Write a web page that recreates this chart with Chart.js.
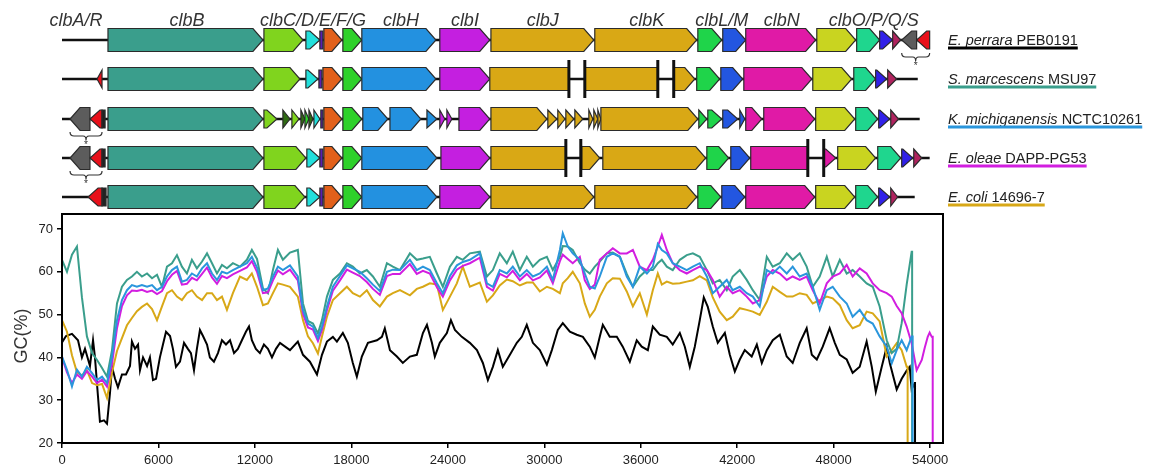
<!DOCTYPE html>
<html>
<head>
<meta charset="utf-8">
<title>clb island GC content</title>
<script src="https://cdn.jsdelivr.net/npm/chart.js@4.4.0/dist/chart.umd.min.js"></script>
<style>
  html, body { margin: 0; padding: 0; background: #fff; }
  #wrap { width: 1152px; height: 469px; position: relative; }
</style>
</head>
<body>
<div id="wrap"><canvas id="gcChart"></canvas></div>
<script>
'use strict';

// ====================== DATA ======================//
const species = ['E. perrara', 'S. marcescens', 'K. michiganensis', 'E. oleae', 'E. coli'];
const strains = ['PEB0191', 'MSU97', 'NCTC10261', 'DAPP-PG53', '14696-7'];

const xTicks = [0, 6000, 12000, 18000, 24000, 30000, 36000, 42000, 48000, 54000];
const yTicks = [20, 30, 40, 50, 60, 70];

// gene label row (centre of label, bp)
const geneLabels = ['clbA/R', 'clbB', 'clbC/D/E/F/G', 'clbH', 'clbI', 'clbJ', 'clbK', 'clbL/M', 'clbN', 'clbO/P/Q/S'];
const geneLabelPos = [870, 7770, 15610, 21080, 25060, 29910, 36380, 41040, 44770, 50490];

// genes: [start, end, gene, strand]  strand 1 = forward, -1 = reverse, 0 = truncated
const perraraGenes = [
  [2860, 12500, 'clbB', 1], [12560, 14990, 'clbC', 1], [15170, 16040, 'clbD', 1], [16040, 16230, 'clbE', 0],
  [16290, 17410, 'clbF', 1], [17470, 18650, 'clbG', 1], [18650, 23260, 'clbH', 1], [23500, 26610, 'clbI', 1],
  [26680, 33080, 'clbJ', 1], [33140, 39480, 'clbK', 1], [39550, 41040, 'clbL', 1], [41100, 42530, 'clbM', 1],
  [42530, 46880, 'clbN', 1], [46950, 49370, 'clbO', 1], [49430, 50860, 'clbP', 1], [50860, 51670, 'clbQ', 1],
  [51670, 52170, 'clbS', 1], [52230, 53160, 'hyp', -1], [53160, 53970, 'clbA', -1]
];
const smarGenes = [
  [2180, 2490, 'clbA', -1],
  [2860, 12500, 'clbB', 1], [12560, 14800, 'clbC', 1], [15170, 15920, 'clbD', 1], [15980, 16170, 'clbE', 0],
  [16230, 17410, 'clbF', 1], [17470, 18650, 'clbG', 1], [18650, 23260, 'clbH', 1], [23500, 26610, 'clbI', 1],
  [26610, 31530, 'clbJ', 0], [32520, 37060, 'clbK', 0], [38050, 39360, 'clbK', 1],
  [39480, 40910, 'clbL', 1], [40980, 42340, 'clbM', 1], [42410, 46640, 'clbN', 1], [46700, 49120, 'clbO', 1],
  [49250, 50610, 'clbP', 1], [50610, 51300, 'clbQ', 1], [51360, 51920, 'clbS', 1]
];
const kmichGenes = [
  [500, 1740, 'hyp', -1], [1740, 2490, 'clbA', -1], [2490, 2680, 'clbR', 0],
  [2860, 12500, 'clbB', 1], [12560, 13370, 'clbC', 1], [13740, 14180, 'orf', 1], [14300, 14740, 'clbC', 1],
  [14860, 15110, 'orf', 1], [15110, 15360, 'clbG', 1], [15360, 15610, 'orf', 1], [15670, 16040, 'clbD', 1],
  [16100, 16230, 'clbE', 0], [16290, 17410, 'clbF', 1], [17470, 18650, 'clbG', 1],
  [18710, 20270, 'clbH', 1], [20400, 22320, 'clbH', 1], [22700, 23320, 'clbH', 1],
  [23500, 23810, 'clbI', 1], [23940, 24250, 'clbI', 1], [24690, 26610, 'clbI', 1],
  [26680, 30160, 'clbJ', 1], [30220, 30780, 'clbJ', 1], [30840, 31280, 'clbJ', 1], [31340, 31840, 'clbJ', 1],
  [31900, 32400, 'clbJ', 1], [32770, 33020, 'clbK', 1], [33080, 33330, 'clbK', 1], [33330, 33520, 'clbK', 1],
  [33520, 39550, 'clbK', 1], [39610, 40110, 'clbL', 1], [40170, 41040, 'clbL', 1],
  [41100, 42030, 'clbM', 1], [42160, 42470, 'clbM', 1], [42530, 43530, 'clbN', 1], [43650, 46820, 'clbN', 1],
  [46880, 49310, 'clbO', 1], [49370, 50740, 'clbP', 1], [50800, 51490, 'clbQ', 1], [51550, 52040, 'clbS', 1]
];
const oleaeGenes = [
  [500, 1740, 'hyp', -1], [1740, 2490, 'clbA', -1], [2490, 2680, 'clbR', 0],
  [2860, 12500, 'clbB', 1], [12560, 15170, 'clbC', 1], [15230, 16040, 'clbD', 1], [16040, 16230, 'clbE', 0],
  [16290, 17410, 'clbF', 1], [17470, 18650, 'clbG', 1], [18650, 23320, 'clbH', 1], [23570, 26610, 'clbI', 1],
  [26680, 31340, 'clbJ', 0], [32330, 33450, 'clbJ', 1], [33640, 40040, 'clbK', 1],
  [40110, 41470, 'clbL', 1], [41600, 42780, 'clbM', 1], [42840, 46390, 'clbN', 0], [47380, 48130, 'clbN', 1],
  [48250, 50610, 'clbO', 1], [50740, 52170, 'clbP', 1], [52230, 52920, 'clbQ', 1], [52980, 53480, 'clbS', 1]
];
const coliGenes = [
  [1620, 2490, 'clbA', -1], [2490, 2740, 'clbR', 0],
  [2860, 12500, 'clbB', 1], [12560, 15110, 'clbC', 1], [15230, 16040, 'clbD', 1], [16040, 16230, 'clbE', 0],
  [16290, 17410, 'clbF', 1], [17470, 18650, 'clbG', 1], [18650, 23320, 'clbH', 1], [23500, 26610, 'clbI', 1],
  [26680, 33080, 'clbJ', 1], [33140, 39480, 'clbK', 1], [39550, 40980, 'clbL', 1], [41040, 42470, 'clbM', 1],
  [42530, 46820, 'clbN', 1], [46880, 49310, 'clbO', 1], [49370, 50740, 'clbP', 1], [50800, 51490, 'clbQ', 1],
  [51550, 51980, 'clbS', 1]
];

const trackEnds = [53970, 53230, 53350, 53970, 53040];
const smarBreaks = [31530, 32520, 37060, 38050];
const oleaeBreaks = [31340, 32270, 46390, 47380];
const perraraBrace = [52230, 53970];
const leftBrace = [500, 2490];

// GC(%) sliding window, shared positions (bp) for four genomes
const positions = [
  0, 310, 620, 930, 1240, 1550, 1870, 2180, 2490, 2800,
  3110, 3420, 3730, 4040, 4350, 4660, 4970, 5290, 5600, 5910,
  6220, 6530, 6840, 7150, 7460, 7770, 8080, 8390, 8710, 9020,
  9330, 9640, 9950, 10260, 10630, 11070, 11500, 11810, 12130, 12500,
  12810, 13120, 13430, 13740, 14180, 14670, 14990, 15300, 15610, 15920,
  16170, 16480, 16850, 17290, 17720, 18090, 18530, 18960, 19340, 19770,
  20210, 20580, 21020, 21640, 22070, 22450, 22880, 23320, 23690, 24130,
  24560, 24930, 25370, 25990, 26430, 26800, 27230, 27670, 28040, 28480,
  28910, 29290, 29720, 30160, 30530, 30970, 31150, 31460, 31770, 32210,
  32520, 32830, 33140, 33450, 33890, 34260, 34700, 35130, 35510, 35940,
  36380, 36750, 37060, 37310, 37620, 37990, 38430, 38860, 39240, 39670,
  40110, 40480, 40910, 41350, 41720, 42160, 42590, 42970, 43400, 43840,
  44210, 44650, 45080, 45450, 45890, 46320, 46700, 47130, 47570, 47940,
  48380, 48810, 49180, 49620, 50050, 50430, 50860, 51300, 51610, 51920,
  52230, 52540, 52850, 53160, 53480, 53660, 53850, 53970, 54100
];
const gcSmar = [
  62.8, 60.0, 64.0, 65.9, 54.0, 44.9, 41.0, 39.4, 37.5, 35.5,
  41.7, 52.6, 56.5, 58.1, 58.9, 60.0, 58.9, 59.6, 58.5, 59.3,
  56.5, 61.2, 62.0, 63.9, 61.2, 59.6, 62.8, 60.8, 62.4, 64.3,
  62.0, 59.6, 61.6, 60.8, 62.0, 61.2, 62.8, 65.1, 63.0, 56.1,
  55.0, 60.4, 65.1, 62.8, 64.5, 65.1, 52.6, 48.5, 47.9, 45.6,
  48.7, 54.2, 58.1, 59.6, 62.0, 61.2, 59.6, 60.4, 58.9, 56.5,
  62.0, 61.2, 60.4, 64.3, 62.8, 63.1, 63.5, 59.6, 56.5, 61.2,
  63.5, 62.8, 64.3, 64.7, 58.9, 60.4, 64.3, 62.0, 64.7, 60.4,
  63.5, 61.2, 62.8, 63.5, 60.4, 63.5, 66.0, 65.9, 65.1, 62.0,
  60.5, 59.6, 61.2, 62.4, 64.3, 64.5, 63.5, 59.5, 56.5, 58.9,
  60.4, 60.4, 62.0, 62.8, 61.2, 60.4, 62.8, 63.9, 64.3, 63.5,
  60.4, 57.3, 58.1, 55.7, 58.9, 60.4, 58.1, 55.7, 53.4, 63.5,
  61.2, 62.0, 64.3, 62.8, 64.3, 61.2, 56.5, 58.9, 63.5, 58.9,
  62.8, 59.6, 60.4, 58.9, 57.3, 56.5, 51.9, 44.0, 41.0, 42.0,
  48.0, 57.0, 64.7, null, null, null, null, null, null
];
const gcKmich = [
  40.2, 37.1, 33.2, 37.1, 35.5, 37.8, 36.3, 34.7, 35.5, 34.0,
  40.2, 48.7, 53.4, 55.7, 56.9, 56.5, 56.9, 56.5, 56.9, 55.7,
  56.5, 58.9, 60.4, 61.2, 57.7, 58.1, 59.6, 58.9, 60.8, 62.0,
  59.6, 58.1, 60.0, 59.6, 60.4, 61.2, 62.0, 63.5, 61.0, 55.7,
  56.1, 58.9, 61.2, 60.4, 61.5, 58.9, 51.1, 47.9, 47.2, 44.5,
  47.2, 51.9, 56.5, 59.0, 61.5, 60.8, 60.0, 58.5, 57.0, 55.5,
  60.0, 60.5, 60.4, 62.8, 60.4, 61.2, 60.4, 57.3, 55.0, 59.0,
  61.5, 62.3, 62.8, 64.3, 57.3, 56.5, 60.4, 59.6, 61.2, 58.9,
  60.4, 58.9, 59.6, 61.2, 58.1, 65.1, 69.0, 65.9, 64.3, 62.8,
  59.6, 56.5, 56.1, 58.9, 63.5, 64.3, 63.5, 58.9, 56.5, 61.2,
  59.6, 61.2, 66.5, 65.1, 64.3, 62.0, 61.2, 60.4, 61.2, 62.0,
  58.9, 55.0, 56.5, 58.1, 55.7, 56.5, 55.0, 54.2, 51.9, 60.4,
  59.6, 61.2, 59.6, 61.2, 58.9, 59.6, 56.5, 51.1, 55.7, 56.5,
  54.2, 52.6, 49.5, 51.1, 48.7, 47.9, 44.9, 42.5, 38.6, 41.7,
  44.0, 41.7, 44.9, null, null, null, null, null, null
];
const gcOleae = [
  40.0, 36.5, 34.0, 36.0, 35.0, 36.8, 35.5, 34.0, 34.8, 33.2,
  38.5, 46.8, 52.0, 54.5, 55.6, 55.5, 55.8, 55.3, 55.6, 54.8,
  55.5, 57.8, 59.3, 60.2, 57.0, 57.2, 58.6, 58.0, 59.5, 61.0,
  58.7, 57.2, 59.0, 58.5, 59.4, 60.2, 61.0, 62.5, 60.0, 55.0,
  55.2, 58.0, 60.3, 59.4, 60.5, 58.0, 50.2, 47.0, 46.5, 43.8,
  46.4, 51.0, 55.6, 58.0, 60.5, 59.8, 59.0, 57.6, 56.0, 54.6,
  59.0, 59.5, 59.5, 61.8, 59.5, 60.2, 59.6, 56.4, 54.2, 58.0,
  60.5, 61.4, 62.0, 63.3, 56.5, 55.6, 59.5, 58.7, 60.2, 58.0,
  59.5, 58.0, 58.7, 60.3, 57.3, 62.5, 64.0, 63.0, 62.0, 63.5,
  58.0, 56.0, 57.0, 62.8, 64.3, 65.5, 64.3, 64.3, 65.1, 61.2,
  60.4, 62.8, 65.9, 68.6, 65.1, 62.0, 60.4, 59.6, 60.4, 61.2,
  60.4, 58.1, 54.2, 56.5, 55.0, 55.7, 54.2, 52.6, 53.4, 58.9,
  60.4, 59.6, 58.1, 58.9, 58.1, 58.9, 55.7, 52.6, 57.3, 58.9,
  59.6, 61.6, 58.9, 60.8, 59.6, 57.3, 55.7, 55.0, 54.2, 52.0,
  50.3, 47.2, 43.3, 37.0, 39.4, 42.2, 44.8, 45.8, 44.8
];
const gcColi = [
  48.7, 46.0, 40.5, 36.5, 35.8, 37.0, 34.0, 33.5, 33.8, 30.5,
  36.5, 41.5, 44.5, 47.5, 49.2, 50.8, 51.8, 52.6, 51.3, 48.7,
  51.9, 55.0, 55.7, 54.2, 53.4, 55.0, 55.7, 54.2, 53.4, 55.0,
  55.0, 53.4, 54.2, 51.1, 55.0, 58.9, 58.1, 59.6, 56.5, 52.2,
  52.6, 55.0, 57.3, 57.0, 56.5, 54.2, 48.7, 44.9, 43.3, 40.9,
  44.9, 49.5, 53.4, 55.0, 56.5, 55.0, 54.2, 55.7, 53.4, 51.9,
  54.2, 55.0, 55.7, 54.5, 56.0, 56.5, 57.3, 57.0, 51.1, 54.2,
  57.3, 61.2, 56.5, 57.5, 53.0, 54.5, 56.8, 58.2, 57.8, 56.8,
  57.5, 57.5, 55.4, 56.5, 56.0, 55.0, 57.3, 58.5, 60.0, 57.3,
  52.6, 49.5, 51.1, 54.2, 57.3, 58.5, 58.4, 55.4, 51.9, 55.0,
  50.0, 55.7, 59.6, 57.0, 57.7, 57.2, 57.3, 57.7, 58.0, 59.0,
  58.0, 54.0, 50.7, 48.7, 49.5, 51.5, 51.1, 50.7, 49.9, 53.0,
  56.5, 55.3, 54.2, 54.2, 55.0, 54.6, 52.6, 53.4, 54.2, 53.8,
  52.2, 48.7, 46.8, 47.5, 50.7, 50.3, 48.4, 40.2, 41.7, 43.3,
  41.7, 37.8, null, null, null, null, null, null, null
];

// E. perrara has its own windows
const perraraPos = [
  0, 250, 620, 995, 1240, 1430, 1740, 1930, 2050, 2240,
  2360, 2610, 2800, 2985, 3110, 3300, 3480, 3730, 3980, 4230,
  4350, 4540, 4730, 4850, 5040, 5290, 5470, 5660, 5850, 6090,
  6280, 6470, 6720, 6900, 7090, 7340, 7590, 7830, 8020, 8210,
  8390, 8580, 8770, 9020, 9200, 9450, 9700, 9950, 10200, 10450,
  10700, 10940, 11190, 11440, 11630, 11810, 12060, 12310, 12560, 12810,
  13060, 13310, 13560, 14180, 14670, 14990, 15420, 15860, 16170, 16480,
  16850, 17100, 17470, 17780, 18090, 18340, 18650, 19030, 19590, 19900,
  20080, 20400, 20830, 21200, 21640, 22070, 22450, 22700, 23010, 23190,
  23500, 23940, 24190, 24440, 24870, 25370, 25810, 26180, 26490, 26800,
  27110, 27420, 27860, 28290, 28600, 28910, 29290, 29720, 30160, 30470,
  30840, 31150, 31590, 32020, 32400, 32830, 33140, 33450, 33640, 34070,
  34510, 34880, 35320, 35750, 36060, 36440, 36750, 37180, 37620, 37990,
  38430, 38740, 39050, 39360, 39670, 39920, 40170, 40480, 40790, 41230,
  41540, 41850, 42160, 42470, 42900, 43220, 43530, 43840, 44210, 44650,
  45080, 45450, 45890, 46320, 46640, 46950, 47320, 47750, 48070, 48380,
  48810, 49180, 49620, 50050, 50370, 50620, 50990, 51300, 51490, 51920,
  52230, 52540, 52730, 52850, 53040
];
const gcPerrara = [
  43.5, 45, 45.5, 44, 40, 42, 38, 44, 40, 30.8,
  25, 25.3, 24.5, 31.7, 37.8, 35, 33, 36, 36, 38,
  43.7, 42, 43, 37, 40, 38, 40, 34.7, 35, 40,
  43, 46, 45, 42, 37.8, 39, 43.4, 42, 41, 37,
  42, 46.4, 45, 43, 40, 39, 41, 44, 43, 44,
  41, 42, 44, 46, 47.2, 44, 42, 41, 43, 42,
  40, 42, 43.4, 41.7, 43.7, 40.6, 39, 36, 40.6, 43.7,
  44.8, 43.7, 45.7, 43.4, 38.7, 35.5, 40.2, 43.4, 44, 44.8,
  46.8, 41.7, 40.2, 38.7, 40.2, 40.6, 45.7, 47.6, 43.4, 40.2,
  43.4, 45.7, 48.7, 46.4, 44.8, 43.4, 41.7, 38.7, 34.7, 37.8,
  41.7, 37.8, 40.6, 43.4, 44.8, 47.6, 43.4, 41.7, 38.3, 41.7,
  46.4, 48, 46, 45.3, 44.8, 42.5, 40, 44.8, 47.6, 44.8,
  44.8, 42.5, 39, 44, 42.5, 41.7, 47.2, 45.3, 44.8, 43,
  45.7, 42.5, 37.8, 42.5, 48.7, 54, 51.8, 47.2, 43.4, 45.7,
  40.6, 36.7, 39.5, 41.7, 40.2, 43, 38.7, 41.7, 44, 45.3,
  40.2, 38.7, 43.4, 46.8, 40.6, 39.5, 42.5, 46.8, 43.4, 40.6,
  39.5, 36.4, 37.8, 43.7, 37.8, 32, 37.8, 42.5, 38.7, 32.5,
  35, 36.9, 37.8, 32.5, 34
];

// where each sequence ends (line falls off the axis)
const seqEnd = [53060, 52880, 52910, 54160, 52600];

// ====================== STYLE ======================//
const FONT = 'Liberation Sans, Arial, Helvetica, sans-serif';
const seriesColors = ['#000000', '#3a9e8c', '#2a96dc', '#d21ee0', '#d8a817'];
const geneColors = {
  clbA: '#e8101a', clbR: '#222222', hyp: '#5c5c5c', orf: '#2f6b12',
  clbB: '#3a9e8c', clbC: '#80d41e', clbD: '#22e0dc', clbE: '#5a1fb0', clbF: '#e2601a', clbG: '#2ed12a',
  clbH: '#2391e0', clbI: '#c41fe0', clbJ: '#d9a815', clbK: '#d9a815', clbL: '#1fd44a', clbM: '#2356e0',
  clbN: '#e01aa6', clbO: '#c9d420', clbP: '#1fd68e', clbQ: '#3121e8', clbS: '#b0235e'
};
const trackY = [40, 79, 119, 158, 197];

function buildPoints(xs, ys, end) {
  let pts = [];
  for (let i = 0; i < xs.length; i++) {
    if (ys[i] !== null) pts.push({ x: xs[i], y: ys[i] });
  }
  let last = pts[pts.length - 1];
  pts.push({ x: end, y: last.y });
  pts.push({ x: end, y: 0 });
  return pts;
}

function geneShape(ctx, a, b, yc, strand) {
  let len = b - a;
  let h = len >= 16 ? 23 : 18;
  let t = yc - h / 2, btm = yc + h / 2;
  let head = Math.min(10, len);
  ctx.beginPath();
  if (strand > 0) {
    ctx.moveTo(a, t); ctx.lineTo(b - head, t); ctx.lineTo(b, yc); ctx.lineTo(b - head, btm); ctx.lineTo(a, btm);
  } else if (strand < 0) {
    ctx.moveTo(b, t); ctx.lineTo(a + head, t); ctx.lineTo(a, yc); ctx.lineTo(a + head, btm); ctx.lineTo(b, btm);
  } else {
    ctx.rect(a, t, len, h);
  }
  ctx.closePath();
}

function drawBrace(ctx, a, b, top) {
  let mid = (a + b) / 2;
  ctx.beginPath();
  ctx.moveTo(a, top);
  ctx.quadraticCurveTo(a, top + 4, a + 4, top + 4);
  ctx.lineTo(mid - 3, top + 4);
  ctx.quadraticCurveTo(mid, top + 4, mid, top + 8);
  ctx.quadraticCurveTo(mid, top + 4, mid + 3, top + 4);
  ctx.lineTo(b - 4, top + 4);
  ctx.quadraticCurveTo(b, top + 4, b, top);
  ctx.strokeStyle = '#333';
  ctx.lineWidth = 1.2;
  ctx.stroke();
  ctx.fillStyle = '#333';
  ctx.font = '10px ' + FONT;
  ctx.textAlign = 'center';
  ctx.textBaseline = 'middle';
  ctx.fillText('*', mid, top + 13);
}

// ====================== PLUGINS ======================//
const whiteBg = {
  id: 'whiteBg',
  beforeDraw(chart) {
    let ctx = chart.ctx;
    ctx.save();
    ctx.fillStyle = '#fff';
    ctx.fillRect(0, 0, chart.width, chart.height);
    ctx.restore();
  }
};

const frameBox = {
  id: 'frameBox',
  afterDatasetsDraw(chart) {
    let a = chart.chartArea, ctx = chart.ctx;
    ctx.save();
    ctx.strokeStyle = '#000';
    ctx.lineWidth = 2;
    ctx.strokeRect(a.left, a.top, a.right - a.left, a.bottom - a.top);
    // y axis title
    ctx.translate(22, 336);
    ctx.rotate(-Math.PI / 2);
    ctx.fillStyle = '#333';
    ctx.font = '18px ' + FONT;
    ctx.textAlign = 'center';
    ctx.textBaseline = 'middle';
    ctx.fillText('GC(%)', 0, 0);
    ctx.restore();
  }
};

const geneMap = {
  id: 'geneMap',
  afterDraw(chart) {
    let ctx = chart.ctx;
    let xs = chart.scales.x;
    let px = v => xs.getPixelForValue(v);
    let tracks = [perraraGenes, smarGenes, kmichGenes, oleaeGenes, coliGenes];
    let breaks = [[], smarBreaks, [], oleaeBreaks, []];
    let braces = [perraraBrace, null, leftBrace, leftBrace, null];
    ctx.save();

    // gene names
    ctx.fillStyle = '#333';
    ctx.font = 'italic 18px ' + FONT;
    ctx.textAlign = 'center';
    ctx.textBaseline = 'alphabetic';
    geneLabels.forEach((g, i) => ctx.fillText(g, px(geneLabelPos[i]), 26));

    tracks.forEach((genes, t) => {
      let yc = trackY[t];
      // backbone
      ctx.strokeStyle = '#111';
      ctx.lineWidth = 2.5;
      ctx.beginPath();
      ctx.moveTo(px(0), yc);
      ctx.lineTo(px(trackEnds[t]), yc);
      ctx.stroke();

      genes.forEach(g => {
        let a = px(g[0]), b = px(g[1]);
        geneShape(ctx, a, b, yc, g[3]);
        ctx.fillStyle = geneColors[g[2]];
        ctx.fill();
        ctx.strokeStyle = '#2b2b2b';
        ctx.lineWidth = 1.2;
        ctx.lineJoin = 'miter';
        ctx.stroke();
      });

      breaks[t].forEach(bp => {
        ctx.strokeStyle = '#111';
        ctx.lineWidth = 3;
        ctx.beginPath();
        ctx.moveTo(px(bp), yc - 19);
        ctx.lineTo(px(bp), yc + 19);
        ctx.stroke();
      });

      if (braces[t]) drawBrace(ctx, px(braces[t][0]), px(braces[t][1]), yc + 13);

      // species label with coloured underline
      let x0 = 948, base = yc + 5;
      ctx.textAlign = 'left';
      ctx.textBaseline = 'alphabetic';
      ctx.fillStyle = '#222';
      ctx.font = 'italic 14.5px ' + FONT;
      ctx.fillText(species[t], x0, base);
      let w1 = ctx.measureText(species[t]).width;
      ctx.font = '14.5px ' + FONT;
      let rest = ' ' + strains[t];
      ctx.fillText(rest, x0 + w1, base);
      let w2 = ctx.measureText(rest).width;
      ctx.strokeStyle = seriesColors[t];
      ctx.lineWidth = 3;
      ctx.beginPath();
      ctx.moveTo(x0, base + 3);
      ctx.lineTo(x0 + w1 + w2, base + 3);
      ctx.stroke();
    });
    ctx.restore();
  }
};

// ====================== CHART ======================//
let lineSets = [
  { label: species[2] + ' ' + strains[2], data: buildPoints(positions, gcKmich, seqEnd[2]), borderColor: seriesColors[2] },
  { label: species[3] + ' ' + strains[3], data: buildPoints(positions, gcOleae, seqEnd[3]), borderColor: seriesColors[3] },
  { label: species[1] + ' ' + strains[1], data: buildPoints(positions, gcSmar, seqEnd[1]), borderColor: seriesColors[1] },
  { label: species[4] + ' ' + strains[4], data: buildPoints(positions, gcColi, seqEnd[4]), borderColor: seriesColors[4] },
  { label: species[0] + ' ' + strains[0], data: buildPoints(perraraPos, gcPerrara, seqEnd[0]), borderColor: seriesColors[0] }
];
lineSets.forEach(d => {
  d.borderWidth = 2;
  d.pointRadius = 0;
  d.tension = 0;
  d.fill = false;
});

let chartObject = {
  type: 'line',
  data: { datasets: lineSets },
  options: {
    responsive: true,
    maintainAspectRatio: false,
    animation: false,
    events: [],
    layout: { padding: { top: 214, right: 209, left: 0, bottom: 0 } },
    plugins: { legend: { display: false }, tooltip: { enabled: false } },
    scales: {
      x: {
        type: 'linear',
        min: 0,
        max: 54800,
        afterBuildTicks: s => { s.ticks = xTicks.map(v => ({ value: v })); },
        afterFit: s => { s.height = 26; },
        ticks: { color: '#222', font: { family: FONT, size: 13 }, padding: 5, maxRotation: 0, autoSkip: false, callback: v => String(v) },
        grid: { drawOnChartArea: false, color: '#000', lineWidth: 1.5, tickLength: 5 },
        border: { display: false }
      },
      y: {
        min: 20,
        max: 73.5,
        afterBuildTicks: s => { s.ticks = yTicks.map(v => ({ value: v })); },
        afterFit: s => { s.width = 62; },
        ticks: { color: '#222', font: { family: FONT, size: 13 }, padding: 4, callback: v => String(v) },
        grid: { drawOnChartArea: false, color: '#000', lineWidth: 1.5, tickLength: 5 },
        border: { display: false }
      }
    }
  },
  plugins: [whiteBg, frameBox, geneMap]
};

let ctx = document.getElementById('gcChart').getContext('2d');
let gcChart = new Chart(ctx, chartObject);
</script>
</body>
</html>
